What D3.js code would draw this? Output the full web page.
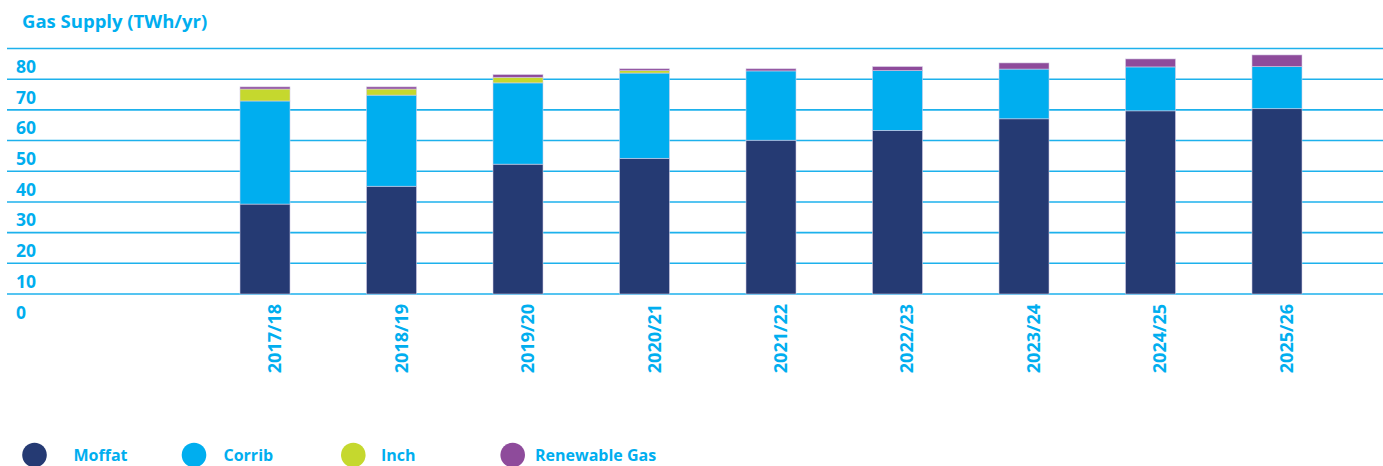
<!DOCTYPE html>
<html>
<head>
<meta charset="utf-8">
<script src="https://cdn.jsdelivr.net/npm/d3@7"></script>
<style>
  html, body { margin: 0; padding: 0; background: #ffffff; }
  svg { display: block; font-family: "Open Sans", "Noto Sans", sans-serif; }
</style>
</head>
<body>
<svg id="chart" width="1383" height="466"></svg>
<script>
// ---- Data ----
const categories = ["2017/18", "2018/19", "2019/20", "2020/21", "2021/22", "2022/23", "2023/24", "2024/25", "2025/26"];
const moffat     = [29.3, 35.1, 42.3, 44.2, 50.1, 53.3, 57.1, 59.7, 60.4];
const corrib     = [33.6, 29.7, 26.5, 27.8, 22.6, 19.5, 16.2, 14.3, 13.7];
const inch       = [3.9, 2.0, 1.8, 0.8, 0.0, 0.0, 0.0, 0.0, 0.0];
const renewable  = [0.7, 0.7, 0.9, 0.6, 0.7, 1.3, 2.0, 2.6, 3.8];
const yTicks     = [0, 10, 20, 30, 40, 50, 60, 70, 80];
const seriesNames = ["Moffat", "Corrib", "Inch", "Renewable Gas"];
const title = "Gas Supply (TWh/yr)";

// ---- Styles / layout ----
const colors = ["#253a73", "#00aeef", "#c5d82e", "#8e4b9b"];
const textColor = "#00aeef";
const legendCircleX = [34.5, 194, 353.3, 512.7];
const legendTextX = [73.5, 223.5, 381, 535];

const svg = d3.select("#chart");

const x = d3.scaleBand()
  .domain(categories)
  .range([201.75, 1340.25])
  .paddingInner(0.6047)
  .paddingOuter(0.3024);

const y = d3.scaleLinear().domain([0, 80]).range([294, 48.5]);

// title
svg.append("text")
  .attr("x", 22).attr("y", 28)
  .attr("fill", textColor)
  .attr("font-size", 18.5).attr("font-weight", 700)
  .text(title);

// gridlines
svg.append("g").selectAll("line")
  .data(yTicks)
  .join("line")
  .attr("x1", 7).attr("x2", 1383)
  .attr("y1", d => y(d)).attr("y2", d => y(d))
  .attr("stroke", "#1db1ec")
  .attr("stroke-width", 1.6);

// y labels (positioned below each gridline)
svg.append("g").selectAll("text")
  .data(yTicks)
  .join("text")
  .attr("x", 16)
  .attr("y", d => y(d) + 24.5)
  .attr("fill", textColor)
  .attr("font-size", 17.5).attr("font-weight", 700)
  .text(d => d);

// stacked data
const table = categories.map((c, i) => ({
  cat: c, Moffat: moffat[i], Corrib: corrib[i], Inch: inch[i], "Renewable Gas": renewable[i]
}));
const stacked = d3.stack().keys(seriesNames)(table);

svg.append("g").selectAll("g")
  .data(stacked)
  .join("g")
  .attr("fill", (d, i) => colors[i])
  .selectAll("rect")
  .data(d => d.filter(s => s[1] - s[0] > 0))
  .join("rect")
  .attr("x", d => x(d.data.cat))
  .attr("width", x.bandwidth())
  .attr("y", d => y(d[1]))
  .attr("height", d => y(d[0]) - y(d[1]))
  .attr("stroke", "rgba(215,208,232,0.7)")
  .attr("stroke-width", 0.8);

// x labels (rotated)
svg.append("g").selectAll("text")
  .data(categories)
  .join("text")
  .attr("transform", d => `translate(${x(d) + x.bandwidth() / 2 + 16},304) rotate(-90)`)
  .attr("text-anchor", "end")
  .attr("fill", textColor)
  .attr("font-size", 18).attr("font-weight", 700)
  .text(d => d);

// legend
const lg = svg.append("g");
lg.selectAll("circle")
  .data(seriesNames)
  .join("circle")
  .attr("cx", (d, i) => legendCircleX[i])
  .attr("cy", 455)
  .attr("r", 12.3)
  .attr("fill", (d, i) => colors[i]);
lg.selectAll("text")
  .data(seriesNames)
  .join("text")
  .attr("x", (d, i) => legendTextX[i])
  .attr("y", 461)
  .attr("fill", textColor)
  .attr("font-size", 16).attr("font-weight", 700)
  .text(d => d);
</script>
</body>
</html>
